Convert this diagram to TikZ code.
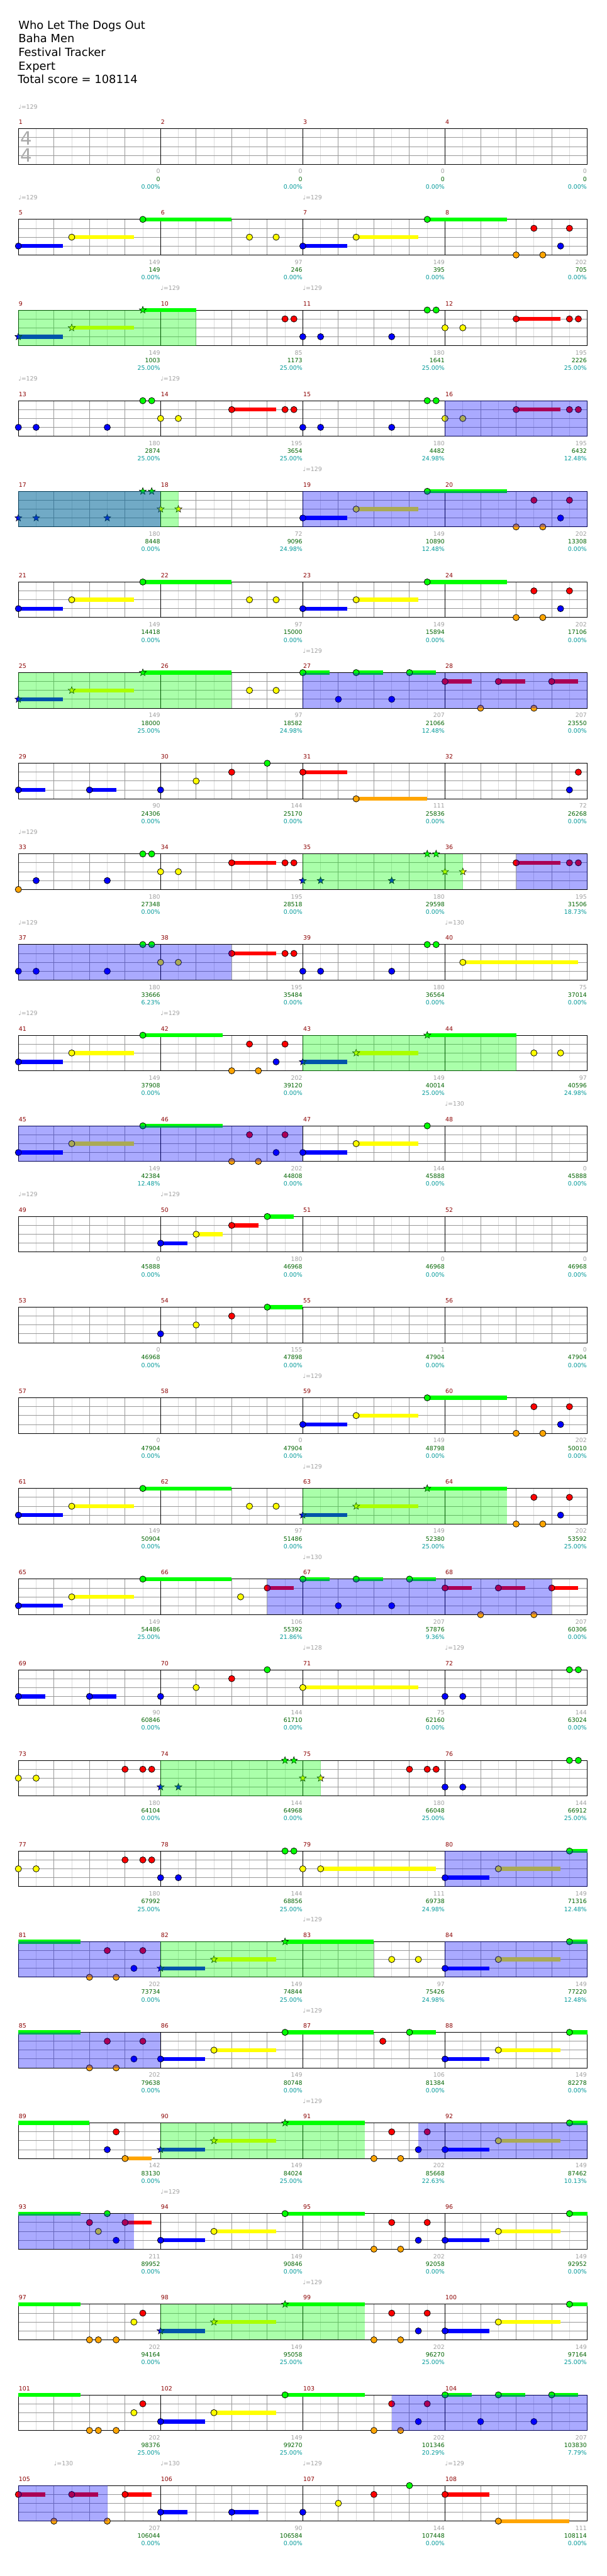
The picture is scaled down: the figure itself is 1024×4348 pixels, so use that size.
\documentclass[tikz,border=0pt]{standalone}
\usepackage{fontspec}
\setmainfont{DejaVu Sans}
\usetikzlibrary{shapes.geometric}
\definecolor{cG}{HTML}{00FF00}
\definecolor{cR}{HTML}{FF0000}
\definecolor{cY}{HTML}{FFFF00}
\definecolor{cB}{HTML}{0000FF}
\definecolor{cO}{HTML}{FFA500}
\definecolor{gridL}{HTML}{DCDCDC}
\definecolor{gridM}{HTML}{999999}
\definecolor{mnum}{HTML}{8B0000}
\definecolor{sgrey}{HTML}{A0A0A0}
\definecolor{sgreen}{HTML}{006400}
\definecolor{scyan}{HTML}{009999}
\definecolor{tsig}{HTML}{AAAAAA}
\def\lnG{0}\def\lnR{1}\def\lnY{2}\def\lnB{3}\def\lnO{4}
\tikzset{
 headst/.style={draw=black,line width=0.8pt},
 starst/.style={star,star points=5,star point ratio=2.4,minimum size=12.5pt,inner sep=0pt,draw=black,line width=0.6pt},
 mnumst/.style={anchor=west,inner sep=0.5pt,text=mnum,font=\fontsize{10}{12}\selectfont},
 labst/.style={anchor=east,inner sep=0.5pt,font=\fontsize{10}{12}\selectfont},
 tempost/.style={anchor=west,inner sep=0pt,text=sgrey,font=\fontsize{10}{12}\selectfont},
 titlest/.style={anchor=base west,inner sep=0pt,font=\fontsize{19}{23}\selectfont},
}
\newcommand\qpos[3]{\pgfmathsetmacro\qx{31+60*#2}\pgfmathsetmacro\qy{-(217.3+153*(#1-1)+15*\csname ln#3\endcsname)}}
\newcommand\qN[3]{\qpos{#1}{#2}{#3}\filldraw[fill=c#3,headst] (\qx,\qy) circle[radius=5.3pt];}
\newcommand\qBar[4]{\qpos{#1}{#2}{#3}\pgfmathsetmacro\qe{31+60*#4}\pgfmathsetmacro\qa{\qy+3.4}\pgfmathsetmacro\qb{\qy-3.4}\fill[c#3] (\qx,\qa) rectangle (\qe,\qb);}
\newcommand\qS[4]{\qBar{#1}{#2}{#3}{#4}\qN{#1}{#2}{#3}}
\newcommand\qT[3]{\qpos{#1}{#2}{#3}\node[starst,fill=c#3] at (\qx,\qy) {};}
\newcommand\qU[4]{\qBar{#1}{#2}{#3}{#4}\qT{#1}{#2}{#3}}
\newcommand\qC[4]{\qBar{#1}{#2}{#3}{#4}}
\newcommand\qOv[4]{\pgfmathsetmacro\qx{31+60*#3}\pgfmathsetmacro\qe{31+60*#4}\pgfmathsetmacro\qy{-(217.3+153*(#2-1))}\pgfmathsetmacro\qb{\qy-60}\fill[c#1,fill opacity=0.333] (\qx,\qy) rectangle (\qe,\qb);}
% repeated patterns
\newcommand\patA[1]{\qS{#1}{0}{B}{1.25}\qS{#1}{1.5}{Y}{3.25}\qS{#1}{3.5}{G}{6}\qN{#1}{6.5}{Y}\qN{#1}{7.25}{Y}}
\newcommand\patB[1]{\qS{#1}{8}{B}{9.25}\qS{#1}{9.5}{Y}{11.25}\qS{#1}{11.5}{G}{13.75}\qN{#1}{14}{O}\qN{#1}{14.5}{R}\qN{#1}{14.75}{O}\qN{#1}{15.25}{B}\qN{#1}{15.5}{R}}
\newcommand\patBs[1]{\qU{#1}{8}{B}{9.25}\qU{#1}{9.5}{Y}{11.25}\qU{#1}{11.5}{G}{13.75}\qN{#1}{14}{O}\qN{#1}{14.5}{R}\qN{#1}{14.75}{O}\qN{#1}{15.25}{B}\qN{#1}{15.5}{R}}
\newcommand\patC[1]{\qN{#1}{0}{B}\qN{#1}{0.5}{B}\qN{#1}{2.5}{B}\qN{#1}{3.5}{G}\qN{#1}{3.75}{G}\qN{#1}{4}{Y}\qN{#1}{4.5}{Y}\qS{#1}{6}{R}{7.25}\qN{#1}{7.5}{R}\qN{#1}{7.75}{R}}
\newcommand\patD[1]{\qN{#1}{8}{B}\qN{#1}{8.5}{B}\qN{#1}{10.5}{B}\qN{#1}{11.5}{G}\qN{#1}{11.75}{G}\qN{#1}{12}{Y}\qN{#1}{12.5}{Y}\qS{#1}{14}{R}{15.25}\qN{#1}{15.5}{R}\qN{#1}{15.75}{R}}
\newcommand\patE[1]{\qS{#1}{0}{B}{1.25}\qS{#1}{1.5}{Y}{3.25}\qS{#1}{3.5}{G}{5.75}\qN{#1}{6}{O}\qN{#1}{6.5}{R}\qN{#1}{6.75}{O}\qN{#1}{7.25}{B}\qN{#1}{7.5}{R}}
\newcommand\patF[1]{\qS{#1}{0}{B}{0.75}\qS{#1}{2}{B}{2.75}\qN{#1}{4}{B}\qN{#1}{5}{Y}\qN{#1}{6}{R}\qN{#1}{7}{G}}
\newcommand\patK[1]{\qS{#1}{8}{G}{8.75}\qN{#1}{9}{B}\qS{#1}{9.5}{G}{10.25}\qN{#1}{10.5}{B}\qS{#1}{11}{G}{11.75}\qS{#1}{12}{R}{12.75}\qN{#1}{13}{O}\qS{#1}{13.5}{R}{14.25}\qN{#1}{14.5}{O}\qS{#1}{15}{R}{15.75}}
\newcommand\patL[1]{\qS{#1}{12}{B}{13.25}\qS{#1}{13.5}{Y}{15.25}\qS{#1}{15.5}{G}{16}}
\newcommand\patM[1]{\qC{#1}{0}{G}{1.75}\qN{#1}{2}{O}\qN{#1}{2.5}{R}\qN{#1}{2.75}{O}\qN{#1}{3.25}{B}\qN{#1}{3.5}{R}}
\newcommand\patN[1]{\qN{#1}{10}{O}\qN{#1}{10.5}{R}\qN{#1}{10.75}{O}\qN{#1}{11.25}{B}\qN{#1}{11.5}{R}}
\newcommand\patP[1]{\qC{#1}{0}{G}{1.75}\qN{#1}{2}{O}\qN{#1}{2.25}{O}\qN{#1}{2.75}{O}\qN{#1}{3.25}{Y}\qN{#1}{3.5}{R}}
\begin{document}
\begin{tikzpicture}[x=1pt,y=1pt]
\useasboundingbox (0,0) rectangle (1024,-4348);
\fill[white] (0,0) rectangle (1024,-4348);
% title
\node[titlest] (t1) at (31,-49) {Who Let The Dogs Out};
\node[titlest] (t2) at (31,-72) {Baha Men};
\node[titlest] (t3) at (31,-95) {Festival Tracker};
\node[titlest] (t4) at (31,-118) {Expert};
\node[titlest] (t5) at (30,-141) {Total score = 108114};
% grids
\foreach \r in {1,...,27}{
  \pgfmathsetmacro\ty{-(217.3+153*(\r-1))}
  \pgfmathsetmacro\by{\ty-60}
  \foreach \k in {1,3,...,31}{\draw[gridL,line width=1pt] ({31+30*\k},\ty) -- ({31+30*\k},\by);}
  \foreach \k in {2,4,6,10,12,14,18,20,22,26,28,30}{\draw[gridM,line width=1pt] ({31+30*\k},\ty) -- ({31+30*\k},\by);}
  \foreach \j in {1,2,3}{\draw[gridM,line width=1pt] (31,{\ty-15*\j}) -- (991,{\ty-15*\j});}
  \foreach \k in {8,16,24}{\draw[black,line width=1pt] ({31+30*\k},\ty) -- ({31+30*\k},\by);}
  \draw[black,line width=1pt] (31,\ty) rectangle (991,\by);
}
% time signature
\node[text=tsig,font=\fontsize{31}{31}\selectfont,inner sep=0pt] (ts1) at (44.5,-233) {4};
\node[text=tsig,font=\fontsize{31}{31}\selectfont,inner sep=0pt] (ts2) at (44.5,-262) {4};
% notes
\patA{2}\patB{2}
\qU{3}{0}{B}{1.25}\qU{3}{1.5}{Y}{3.25}\qU{3}{3.5}{G}{5}\qN{3}{7.5}{R}\qN{3}{7.75}{R}\patD{3}
\patC{4}\patD{4}
\qT{5}{0}{B}\qT{5}{0.5}{B}\qT{5}{2.5}{B}\qT{5}{3.5}{G}\qT{5}{3.75}{G}\qT{5}{4}{Y}\qT{5}{4.5}{Y}\patB{5}
\patA{6}\patB{6}
\qU{7}{0}{B}{1.25}\qU{7}{1.5}{Y}{3.25}\qU{7}{3.5}{G}{6}\qN{7}{6.5}{Y}\qN{7}{7.25}{Y}\patK{7}
\patF{8}\qS{8}{8}{R}{9.25}\qS{8}{9.5}{O}{11.5}\qN{8}{15.5}{B}\qN{8}{15.75}{R}
\qN{9}{0}{O}\qN{9}{0.5}{B}\qN{9}{2.5}{B}\qN{9}{3.5}{G}\qN{9}{3.75}{G}\qN{9}{4}{Y}\qN{9}{4.5}{Y}\qS{9}{6}{R}{7.25}\qN{9}{7.5}{R}\qN{9}{7.75}{R}
\qT{9}{8}{B}\qT{9}{8.5}{B}\qT{9}{10.5}{B}\qT{9}{11.5}{G}\qT{9}{11.75}{G}\qT{9}{12}{Y}\qT{9}{12.5}{Y}\qS{9}{14}{R}{15.25}\qN{9}{15.5}{R}\qN{9}{15.75}{R}
\patC{10}\qN{10}{8}{B}\qN{10}{8.5}{B}\qN{10}{10.5}{B}\qN{10}{11.5}{G}\qN{10}{11.75}{G}\qS{10}{12.5}{Y}{15.75}
\patE{11}\qU{11}{8}{B}{9.25}\qU{11}{9.5}{Y}{11.25}\qU{11}{11.5}{G}{14}\qN{11}{14.5}{Y}\qN{11}{15.25}{Y}
\patE{12}\qS{12}{8}{B}{9.25}\qS{12}{9.5}{Y}{11.25}\qN{12}{11.5}{G}
\qS{13}{4}{B}{4.75}\qS{13}{5}{Y}{5.75}\qS{13}{6}{R}{6.75}\qS{13}{7}{G}{7.75}
\qN{14}{4}{B}\qN{14}{5}{Y}\qN{14}{6}{R}\qS{14}{7}{G}{8}
\patB{15}
\patA{16}\patBs{16}
\qS{17}{0}{B}{1.25}\qS{17}{1.5}{Y}{3.25}\qS{17}{3.5}{G}{6}\qN{17}{6.25}{Y}\qS{17}{7}{R}{7.75}\patK{17}
\patF{18}\qS{18}{8}{Y}{11.25}\qN{18}{12}{B}\qN{18}{12.5}{B}\qN{18}{15.5}{G}\qN{18}{15.75}{G}
\qN{19}{0}{Y}\qN{19}{0.5}{Y}\qN{19}{3}{R}\qN{19}{3.5}{R}\qN{19}{3.75}{R}\qT{19}{4}{B}\qT{19}{4.5}{B}\qT{19}{7.5}{G}\qT{19}{7.75}{G}\qT{19}{8}{Y}\qT{19}{8.5}{Y}\qN{19}{11}{R}\qN{19}{11.5}{R}\qN{19}{11.75}{R}\qN{19}{12}{B}\qN{19}{12.5}{B}\qN{19}{15.5}{G}\qN{19}{15.75}{G}
\qN{20}{0}{Y}\qN{20}{0.5}{Y}\qN{20}{3}{R}\qN{20}{3.5}{R}\qN{20}{3.75}{R}\qN{20}{4}{B}\qN{20}{4.5}{B}\qN{20}{7.5}{G}\qN{20}{7.75}{G}\qN{20}{8}{Y}\qS{20}{8.5}{Y}{11.75}\patL{20}
\patM{21}\qU{21}{4}{B}{5.25}\qU{21}{5.5}{Y}{7.25}\qU{21}{7.5}{G}{10}\qN{21}{10.5}{Y}\qN{21}{11.25}{Y}\patL{21}
\patM{22}\qS{22}{4}{B}{5.25}\qS{22}{5.5}{Y}{7.25}\qS{22}{7.5}{G}{10}\qN{22}{10.25}{R}\qS{22}{11}{G}{11.75}\patL{22}
\qC{23}{0}{G}{2}\qN{23}{2.5}{B}\qN{23}{2.75}{R}\qS{23}{3}{O}{3.75}\qU{23}{4}{B}{5.25}\qU{23}{5.5}{Y}{7.25}\qU{23}{7.5}{G}{9.75}\patN{23}\patL{23}
\qC{24}{0}{G}{1.75}\qN{24}{2}{R}\qN{24}{2.25}{Y}\qN{24}{2.5}{G}\qN{24}{2.75}{B}\qS{24}{3}{R}{3.75}\qS{24}{4}{B}{5.25}\qS{24}{5.5}{Y}{7.25}\qS{24}{7.5}{G}{9.75}\patN{24}\patL{24}
\patP{25}\qU{25}{4}{B}{5.25}\qU{25}{5.5}{Y}{7.25}\qU{25}{7.5}{G}{9.75}\patN{25}\patL{25}
\patP{26}\qS{26}{4}{B}{5.25}\qS{26}{5.5}{Y}{7.25}\qS{26}{7.5}{G}{9.75}\patN{26}\qS{26}{12}{G}{12.75}\qN{26}{13}{B}\qS{26}{13.5}{G}{14.25}\qN{26}{14.5}{B}\qS{26}{15}{G}{15.75}
\qS{27}{0}{R}{0.75}\qN{27}{1}{O}\qS{27}{1.5}{R}{2.25}\qN{27}{2.5}{O}\qS{27}{3}{R}{3.75}\qS{27}{4}{B}{4.75}\qS{27}{6}{B}{6.75}\qN{27}{8}{B}\qN{27}{9}{Y}\qN{27}{10}{R}\qN{27}{11}{G}\qS{27}{12}{R}{13.25}\qS{27}{13.5}{O}{15.5}
% overlays: star phrases (green) and activations (blue)
\qOv{G}{3}{0}{5}
\qOv{B}{4}{12}{16}
\qOv{G}{5}{0}{4.5}\qOv{B}{5}{0}{4}\qOv{B}{5}{8}{16}
\qOv{G}{7}{0}{6}\qOv{B}{7}{8}{16}
\qOv{G}{9}{8}{12.5}\qOv{B}{9}{14}{16}
\qOv{B}{10}{0}{6}
\qOv{G}{11}{8}{14}
\qOv{B}{12}{0}{8}
\qOv{G}{16}{8}{13.75}
\qOv{B}{17}{7}{15}
\qOv{G}{19}{4}{8.5}
\qOv{B}{20}{12}{16}
\qOv{B}{21}{0}{4}\qOv{G}{21}{4}{10}\qOv{B}{21}{12}{16}
\qOv{B}{22}{0}{4}
\qOv{G}{23}{4}{9.75}\qOv{B}{23}{11.25}{16}
\qOv{B}{24}{0}{3.25}
\qOv{G}{25}{4}{9.75}
\qOv{B}{26}{10.5}{16}
\qOv{B}{27}{0}{2.5}
% measure numbers and scores
\foreach \m/\a/\g/\p in {1/0/0/0.00,2/0/0/0.00,3/0/0/0.00,4/0/0/0.00,
5/149/149/0.00,6/97/246/0.00,7/149/395/0.00,8/202/705/0.00,
9/149/1003/25.00,10/85/1173/25.00,11/180/1641/25.00,12/195/2226/25.00,
13/180/2874/25.00,14/195/3654/25.00,15/180/4482/24.98,16/195/6432/12.48,
17/180/8448/0.00,18/72/9096/24.98,19/149/10890/12.48,20/202/13308/0.00,
21/149/14418/0.00,22/97/15000/0.00,23/149/15894/0.00,24/202/17106/0.00,
25/149/18000/25.00,26/97/18582/24.98,27/207/21066/12.48,28/207/23550/0.00,
29/90/24306/0.00,30/144/25170/0.00,31/111/25836/0.00,32/72/26268/0.00,
33/180/27348/0.00,34/195/28518/0.00,35/180/29598/0.00,36/195/31506/18.73,
37/180/33666/6.23,38/195/35484/0.00,39/180/36564/0.00,40/75/37014/0.00,
41/149/37908/0.00,42/202/39120/0.00,43/149/40014/25.00,44/97/40596/24.98,
45/149/42384/12.48,46/202/44808/0.00,47/144/45888/0.00,48/0/45888/0.00,
49/0/45888/0.00,50/180/46968/0.00,51/0/46968/0.00,52/0/46968/0.00,
53/0/46968/0.00,54/155/47898/0.00,55/1/47904/0.00,56/0/47904/0.00,
57/0/47904/0.00,58/0/47904/0.00,59/149/48798/0.00,60/202/50010/0.00,
61/149/50904/0.00,62/97/51486/0.00,63/149/52380/25.00,64/202/53592/25.00,
65/149/54486/25.00,66/106/55392/21.86,67/207/57876/9.36,68/207/60306/0.00,
69/90/60846/0.00,70/144/61710/0.00,71/75/62160/0.00,72/144/63024/0.00,
73/180/64104/0.00,74/144/64968/0.00,75/180/66048/25.00,76/144/66912/25.00,
77/180/67992/25.00,78/144/68856/25.00,79/111/69738/24.98,80/149/71316/12.48,
81/202/73734/0.00,82/149/74844/25.00,83/97/75426/24.98,84/149/77220/12.48,
85/202/79638/0.00,86/149/80748/0.00,87/106/81384/0.00,88/149/82278/0.00,
89/142/83130/0.00,90/149/84024/25.00,91/202/85668/22.63,92/149/87462/10.13,
93/211/89952/0.00,94/149/90846/0.00,95/202/92058/0.00,96/149/92952/0.00,
97/202/94164/0.00,98/149/95058/25.00,99/202/96270/25.00,100/149/97164/25.00,
101/202/98376/25.00,102/149/99270/25.00,103/202/101346/20.29,104/207/103830/7.79,
105/207/106044/0.00,106/90/106584/0.00,107/144/107448/0.00,108/111/108114/0.00}{
  \pgfmathtruncatemacro\rr{(\m-1)/4}
  \pgfmathtruncatemacro\cc{\m-1-4*\rr}
  \pgfmathsetmacro\ty{-(217.3+153*\rr)}
  \pgfmathsetmacro\lx{31+240*(\cc+1)}
  \node[mnumst] (mn\m) at ({31+240*\cc},{\ty+11}) {\m};
  \node[labst,text=sgrey] (ma\m) at (\lx,{\ty-72}) {\a};
  \node[labst,text=sgreen] (mg\m) at (\lx,{\ty-85}) {\g};
  \node[labst,text=scyan] (mp\m) at (\lx,{\ty-98}) {\p\%};
}
% tempo marks
\foreach \r/\b/\v [count=\i] in {1/0/129,2/0/129,2/8/129,3/4/129,3/8/129,4/0/129,4/4/129,5/8/129,7/8/129,
9/0/129,10/0/129,10/12/130,11/0/129,11/4/129,12/12/130,13/0/129,13/4/129,15/8/129,16/8/129,17/8/130,
18/8/128,18/12/129,21/8/129,22/8/129,23/8/129,24/4/129,25/8/129,27/1/130,27/4/130,27/8/129,27/12/129}{
  \node[tempost] (tp\i) at ({31+60*\b},{-(217.3+153*(\r-1))+37}) {♩=\v};
}
\end{tikzpicture}
\end{document}
